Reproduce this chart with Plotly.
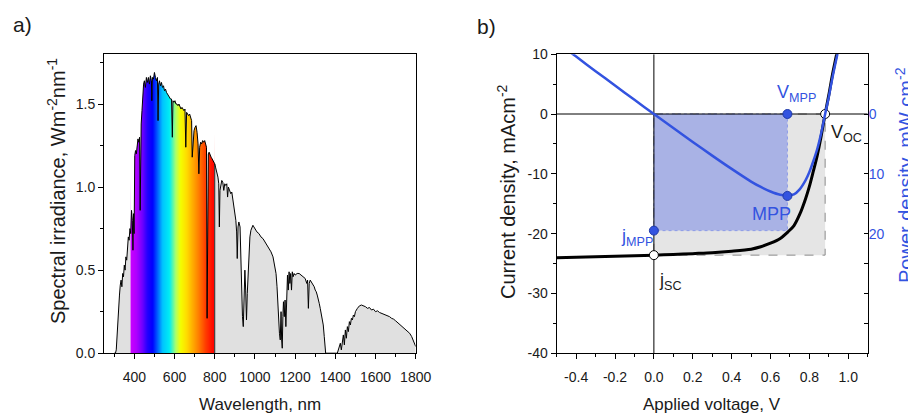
import numpy as np
import plotly.graph_objects as go

# ---------------- data: panel a (solar spectrum) ----------------
wavelength_nm = [
    300, 306, 310, 314, 318, 322, 326, 330, 334, 338, 342, 346, 350, 354, 358, 362, 366, 370, 374, 378,
    380, 382, 386, 390, 393, 396, 399, 402, 406, 410, 414, 418, 422, 426, 429, 431, 434, 438, 442, 446,
    450, 455, 460, 465, 470, 475, 480, 485, 487, 490, 495, 500, 505, 510, 515, 518, 521, 525, 530, 535,
    540, 545, 550, 555, 560, 565, 570, 575, 580, 585, 589, 592, 597, 602, 607, 612, 617, 622, 627, 632,
    637, 642, 647, 652, 656, 660, 665, 670, 675, 680, 685, 688, 692, 697, 702, 707, 712, 717, 721, 725,
    730, 735, 740, 745, 750, 755, 759, 762, 765, 768, 772, 777, 782, 787, 792, 797, 800, 804, 808, 812,
    816, 820, 823, 826, 830, 835, 840, 845, 850, 855, 860, 864, 868, 872, 876, 880, 885, 890, 895, 900,
    905, 909, 912, 916, 920, 926, 930, 934, 938, 942, 946, 950, 954, 958, 962, 966, 970, 975, 980, 985,
    990, 995, 1000, 1010, 1020, 1030, 1040, 1050, 1060, 1070, 1080, 1090, 1095, 1100, 1105, 1110, 1114, 1118, 1122, 1126,
    1130, 1133, 1136, 1139, 1142, 1146, 1150, 1154, 1158, 1162, 1166, 1170, 1174, 1178, 1182, 1186, 1190, 1195, 1200, 1210,
    1220, 1230, 1240, 1250, 1258, 1262, 1266, 1270, 1275, 1280, 1285, 1290, 1295, 1300, 1305, 1310, 1315, 1320, 1325, 1330,
    1335, 1340, 1345, 1349, 1352, 1410, 1415, 1420, 1425, 1430, 1435, 1440, 1445, 1450, 1455, 1460, 1465, 1470, 1475, 1480,
    1485, 1490, 1495, 1500, 1510, 1520, 1530, 1540, 1550, 1560, 1570, 1580, 1590, 1600, 1610, 1620, 1630, 1640, 1650, 1660,
    1670, 1680, 1690, 1700, 1710, 1720, 1730, 1740, 1750, 1760, 1770, 1780, 1790, 1800,
]
irradiance = [
    0.00, 0.00, 0.02, 0.12, 0.22, 0.29, 0.35, 0.41, 0.44, 0.40, 0.48, 0.46, 0.53, 0.50, 0.58, 0.56, 0.64, 0.70, 0.68, 0.75,
    0.74, 0.72, 0.86, 0.80, 0.62, 0.84, 0.72, 1.19, 1.22, 1.20, 1.26, 1.29, 1.27, 1.30, 0.86, 1.26, 1.38, 1.46, 1.58, 1.62,
    1.64, 1.60, 1.66, 1.63, 1.66, 1.62, 1.67, 1.64, 1.52, 1.66, 1.65, 1.69, 1.66, 1.64, 1.66, 1.40, 1.62, 1.64, 1.61, 1.63,
    1.60, 1.61, 1.58, 1.59, 1.57, 1.56, 1.55, 1.54, 1.53, 1.53, 1.30, 1.52, 1.51, 1.52, 1.50, 1.50, 1.49, 1.50, 1.48, 1.47,
    1.48, 1.47, 1.46, 1.47, 1.24, 1.45, 1.44, 1.43, 1.44, 1.42, 1.40, 1.18, 1.30, 1.34, 1.36, 1.37, 1.33, 1.26, 1.08, 1.24,
    1.27, 1.26, 1.28, 1.27, 1.28, 1.26, 1.24, 0.21, 0.60, 1.20, 1.21, 1.19, 1.18, 1.17, 1.16, 1.15, 1.14, 1.12, 1.10, 1.09,
    1.06, 1.02, 0.76, 0.98, 1.02, 1.04, 1.03, 0.98, 1.02, 1.01, 1.02, 0.94, 1.00, 0.99, 0.98, 0.96, 0.97, 0.93, 0.88, 0.85,
    0.80, 0.73, 0.57, 0.76, 0.79, 0.76, 0.55, 0.42, 0.22, 0.16, 0.45, 0.50, 0.38, 0.20, 0.36, 0.50, 0.62, 0.70, 0.74, 0.76,
    0.77, 0.76, 0.75, 0.73, 0.72, 0.70, 0.69, 0.67, 0.65, 0.63, 0.61, 0.58, 0.55, 0.52, 0.48, 0.40, 0.28, 0.18, 0.12, 0.08,
    0.25, 0.08, 0.03, 0.22, 0.31, 0.22, 0.32, 0.16, 0.40, 0.47, 0.38, 0.49, 0.42, 0.48, 0.38, 0.49, 0.46, 0.48, 0.47, 0.48,
    0.48, 0.47, 0.46, 0.45, 0.42, 0.44, 0.27, 0.42, 0.44, 0.43, 0.42, 0.41, 0.40, 0.38, 0.37, 0.35, 0.33, 0.30, 0.27, 0.24,
    0.21, 0.17, 0.10, 0.03, 0.00, 0.00, 0.02, 0.03, 0.06, 0.02, 0.08, 0.11, 0.05, 0.14, 0.09, 0.16, 0.13, 0.19, 0.17, 0.21,
    0.20, 0.23, 0.22, 0.25, 0.27, 0.285, 0.29, 0.285, 0.28, 0.27, 0.275, 0.26, 0.265, 0.25, 0.255, 0.245, 0.24, 0.235, 0.23, 0.225,
    0.22, 0.21, 0.205, 0.195, 0.185, 0.175, 0.165, 0.155, 0.145, 0.135, 0.12, 0.10, 0.07, 0.04,
]
visible_start_nm = 380
visible_end_nm = 800

# ---------------- data: panel b (J-V and power curves) ----------------
voltage_V = [-0.5, -0.4, -0.3, -0.2, -0.1, 0.0, 0.1, 0.2, 0.3, 0.4, 0.5, 0.55, 0.6, 0.65, 0.69,
             0.72, 0.75, 0.78, 0.80, 0.82, 0.84, 0.86, 0.881, 0.90, 0.92, 0.95]
current_density = [-24.05, -23.95, -23.88, -23.8, -23.7, -23.6, -23.5, -23.35, -23.2, -22.95, -22.6, -22.2,
                   -21.6, -20.8, -19.7, -18.7, -16.8, -14.2, -12.1, -9.6, -7.0, -3.8, 0.0, 3.2, 6.8, 11.5]
power_density = [-12.0, -9.6, -7.16, -4.76, -2.37, 0.0, 2.35, 4.67, 6.96, 9.18, 11.3, 12.2,
                 12.96, 13.5, 13.6, 13.45, 12.6, 11.1, 9.7, 7.9, 5.9, 3.3, 0.0, -2.9, -6.3, -10.9]

V_MPP = 0.687
J_MPP = -19.5
P_MPP = 13.7
V_OC = 0.881
J_SC = -23.6

# ---------------- styles ----------------
W, H = 908, 415
BLUE = "#3353e0"
SANS = "Liberation Sans, Arial, sans-serif"
TXT = "#1a1a1a"
TICKFONT = dict(family=SANS, size=14, color=TXT)

A_X = [104.2 / W, 415.7 / W]
B_X = [556.7 / W, 867.7 / W]
Y_DOM = [1 - 353.2 / H, 1 - 54.2 / H]

A_XRANGE = [250, 1800]
A_YRANGE = [0, 1.8]
B_XRANGE = [-0.5, 1.1]
B_YRANGE = [-40, 10]
P_RANGE = [40, -10]


def px(x):
    return x / W


def py(y):
    return 1 - y / H


fig = go.Figure()

# ---- panel a ----
# rainbow band (heatmaps are drawn below scatter traces)
rainbow = [
    [0.00, "#cc00ff"], [0.071, "#b000ff"], [0.143, "#7000ff"], [0.202, "#2400ff"],
    [0.262, "#0000ff"], [0.321, "#0060ff"], [0.381, "#00c4ff"], [0.464, "#00eef4"],
    [0.536, "#a8ff70"], [0.595, "#f4ff00"], [0.667, "#ffdc00"], [0.738, "#ffac00"],
    [0.810, "#ff7c00"], [0.893, "#ff3c00"], [0.964, "#ff1000"], [1.0, "#ff0000"],
]
edges = np.arange(visible_start_nm, visible_end_nm + 1, 1)
centers = (edges[:-1] + edges[1:]) / 2
band_y_edges = [A_YRANGE[0], 0.5 * (A_YRANGE[0] + A_YRANGE[1]), 0.97 * A_YRANGE[1]]
fig.add_trace(go.Heatmap(x=edges, y=band_y_edges, z=[centers, centers],
                         colorscale=rainbow, zmin=visible_start_nm, zmax=visible_end_nm,
                         showscale=False, xaxis="x", yaxis="y", hoverinfo="skip"))

# grey fill outside the visible band
uv_x = [w for w in wavelength_nm if w <= visible_start_nm]
uv_y = [v for w, v in zip(wavelength_nm, irradiance) if w <= visible_start_nm]
ir_x = [w for w in wavelength_nm if w >= visible_end_nm]
ir_y = [v for w, v in zip(wavelength_nm, irradiance) if w >= visible_end_nm]
for gx, gy in ((uv_x, uv_y), (ir_x, ir_y)):
    fig.add_trace(go.Scatter(x=gx, y=gy, mode="lines", fill="tozeroy", fillcolor="#e0e0e0",
                             line=dict(width=0), xaxis="x", yaxis="y", hoverinfo="skip"))

# white mask above the curve inside the visible band
vis_x = [w for w in wavelength_nm if visible_start_nm <= w <= visible_end_nm]
vis_y = [v for w, v in zip(wavelength_nm, irradiance) if visible_start_nm <= w <= visible_end_nm]
top = A_YRANGE[1] * 1.1
fig.add_trace(go.Scatter(x=vis_x + [vis_x[-1] + 6, vis_x[0] - 6], y=vis_y + [top, top],
                         mode="lines", fill="toself", fillcolor="white", line=dict(width=0),
                         xaxis="x", yaxis="y", hoverinfo="skip"))
fig.add_trace(go.Scatter(x=[vis_x[-1], vis_x[-1]], y=[0, vis_y[-1]], mode="lines",
                         line=dict(color="#202020", width=1), xaxis="x", yaxis="y", hoverinfo="skip"))
fig.add_trace(go.Scatter(x=wavelength_nm, y=irradiance, mode="lines",
                         line=dict(color="black", width=1), xaxis="x", yaxis="y", hoverinfo="skip"))

# ---- panel b ----
fig.add_trace(go.Scatter(x=[0, V_OC, V_OC, 0, 0], y=[0, 0, J_SC, J_SC, 0], mode="lines",
                         fill="toself", fillcolor="#e5e5e5",
                         line=dict(color="#8a8a8a", width=1, dash="dash"),
                         xaxis="x2", yaxis="y2", hoverinfo="skip"))
fig.add_trace(go.Scatter(x=[0, V_MPP, V_MPP, 0, 0], y=[0, 0, J_MPP, J_MPP, 0], mode="lines",
                         fill="toself", fillcolor="rgba(95,115,228,0.45)",
                         line=dict(color="#8c9ae8", width=1, dash="dot"),
                         xaxis="x2", yaxis="y2", hoverinfo="skip"))
fig.add_trace(go.Scatter(x=[0, 0], y=B_YRANGE, mode="lines", line=dict(color="black", width=1),
                         xaxis="x2", yaxis="y2", hoverinfo="skip"))
fig.add_trace(go.Scatter(x=B_XRANGE, y=[0, 0], mode="lines", line=dict(color="black", width=1),
                         xaxis="x2", yaxis="y2", hoverinfo="skip"))
fig.add_trace(go.Scatter(x=voltage_V, y=current_density, mode="lines",
                         line=dict(color="black", width=3, shape="spline", smoothing=0.8),
                         xaxis="x2", yaxis="y2", hoverinfo="skip"))
fig.add_trace(go.Scatter(x=voltage_V, y=power_density, mode="lines",
                         line=dict(color=BLUE, width=2.5, shape="spline", smoothing=0.8),
                         xaxis="x2", yaxis="y3", hoverinfo="skip"))
fig.add_trace(go.Scatter(x=[V_MPP, 0], y=[0, J_MPP], mode="markers",
                         marker=dict(color=BLUE, size=9, line=dict(color="#1f3aa8", width=1)),
                         xaxis="x2", yaxis="y2", hoverinfo="skip"))
fig.add_trace(go.Scatter(x=[V_MPP], y=[P_MPP], mode="markers",
                         marker=dict(color=BLUE, size=9, line=dict(color="#1f3aa8", width=1)),
                         xaxis="x2", yaxis="y3", hoverinfo="skip"))
fig.add_trace(go.Scatter(x=[0, V_OC], y=[J_SC, 0], mode="markers",
                         marker=dict(color="white", size=9, line=dict(color="black", width=1)),
                         xaxis="x2", yaxis="y2", hoverinfo="skip"))

axis_common = dict(showline=True, linecolor="black", linewidth=1.3, mirror=True, showgrid=False,
                   zeroline=False, tickcolor="black", tickwidth=1, tickfont=TICKFONT,
                   automargin=False)
inside_common = dict(showline=False, showgrid=False, zeroline=False, showticklabels=False,
                     ticks="inside", ticklen=5, tickcolor="black", tickwidth=1, automargin=False)

a_xticks = [400, 600, 800, 1000, 1200, 1400, 1600, 1800]
a_xminor = [300, 500, 700, 900, 1100, 1300, 1500, 1700]
a_yticks = [0.0, 0.5, 1.0, 1.5]
a_yminor = [0.25, 0.75, 1.25, 1.75]
b_xticks = [-0.4, -0.2, 0.0, 0.2, 0.4, 0.6, 0.8, 1.0]
b_xminor = [-0.5, -0.3, -0.1, 0.1, 0.3, 0.5, 0.7, 0.9, 1.1]
b_yticks = [-40, -30, -20, -10, 0, 10]
b_yminor = [-35, -25, -15, -5, 5]

fig.update_layout(
    width=W, height=H, margin=dict(l=0, r=0, t=0, b=0, autoexpand=False),
    paper_bgcolor="white", plot_bgcolor="white", showlegend=False,
    xaxis=dict(domain=A_X, range=A_XRANGE, anchor="y", tickmode="array", tickvals=a_xticks,
               ticktext=[str(v) for v in a_xticks], ticks="outside", ticklen=5,
               ticklabelstandoff=6,
               minor=dict(tickmode="array", tickvals=a_xminor, ticks="outside", ticklen=3,
                          tickcolor="black"), **axis_common),
    yaxis=dict(domain=Y_DOM, range=A_YRANGE, anchor="x", tickmode="array", tickvals=a_yticks,
               ticktext=[format(v, ".1f") for v in a_yticks], ticks="outside", ticklen=5,
               minor=dict(tickmode="array", tickvals=a_yminor, ticks="outside", ticklen=3,
                          tickcolor="black"), **axis_common),
    xaxis3=dict(overlaying="x", side="top", anchor="y", range=A_XRANGE, tickmode="array",
                tickvals=a_xticks + a_xminor, **inside_common),
    yaxis4=dict(overlaying="y", side="right", anchor="x", range=A_YRANGE, tickmode="array",
                tickvals=a_yticks + a_yminor, **inside_common),
    xaxis2=dict(domain=B_X, range=B_XRANGE, anchor="y2", tickmode="array", tickvals=b_xticks,
                ticktext=[format(v, ".1f") for v in b_xticks], ticks="outside", ticklen=5,
                ticklabelstandoff=6,
                minor=dict(tickmode="array", tickvals=b_xminor, ticks="outside", ticklen=3,
                           tickcolor="black"), **axis_common),
    yaxis2=dict(domain=Y_DOM, range=B_YRANGE, anchor="x2", tickmode="array", tickvals=b_yticks,
                ticktext=[str(v) for v in b_yticks], ticks="outside", ticklen=5,
                minor=dict(tickmode="array", tickvals=b_yminor, ticks="outside", ticklen=3,
                           tickcolor="black"), **axis_common),
    xaxis4=dict(overlaying="x2", side="top", anchor="y2", range=B_XRANGE, tickmode="array",
                tickvals=b_xticks + b_xminor, **inside_common),
    yaxis3=dict(overlaying="y2", side="right", anchor="x2", range=P_RANGE, tickmode="array",
                tickvals=[-10, 0, 10, 20, 30, 40, -5, 5, 15, 25, 35],
                ticktext=["", "0", "10", "20", "", "", "", "", "", "", ""],
                ticks="inside", ticklen=4, tickcolor="black", tickwidth=1,
                showline=False, showgrid=False, zeroline=False, automargin=False,
                tickfont=dict(family=SANS, size=14, color=BLUE)),
)

ann = [
    dict(text="a)", x=px(22), y=py(25), font=dict(family=SANS, size=21, color=TXT)),
    dict(text="b)", x=px(486), y=py(26), font=dict(family=SANS, size=21, color=TXT)),
    dict(text="Wavelength, nm", x=px(260), y=py(404), font=dict(family=SANS, size=17, color=TXT)),
    dict(text="Applied voltage, V", x=px(712), y=py(404), font=dict(family=SANS, size=17, color=TXT)),
    dict(text="Spectral irradiance, Wm<sup>-2</sup>nm<sup>-1</sup>", x=px(56), y=py(191), textangle=-90,
         font=dict(family=SANS, size=20, color=TXT)),
    dict(text="Current density, mAcm<sup>-2</sup>", x=px(506), y=py(192), textangle=-90,
         font=dict(family=SANS, size=20, color=TXT)),
    dict(text="Power density, mW cm<sup>-2</sup>", x=px(904), y=py(175), textangle=-90,
         font=dict(family=SANS, size=20, color=BLUE)),
    dict(text="V<sub>MPP</sub>", x=px(796), y=py(93), font=dict(family=SANS, size=18, color=BLUE)),
    dict(text="MPP", x=px(771), y=py(214), font=dict(family=SANS, size=18, color=BLUE)),
    dict(text="j<sub>MPP</sub>", x=px(637), y=py(237), font=dict(family=SANS, size=18, color=BLUE)),
    dict(text="j<sub>SC</sub>", x=px(670), y=py(281), font=dict(family=SANS, size=18, color=TXT)),
    dict(text="V<sub>OC</sub>", x=px(846), y=py(133), font=dict(family=SANS, size=18, color=TXT)),
]
for a in ann:
    a.update(xref="paper", yref="paper", showarrow=False, xanchor="center", yanchor="middle")
fig.update_layout(annotations=ann)

fig.write_html("out.html")
